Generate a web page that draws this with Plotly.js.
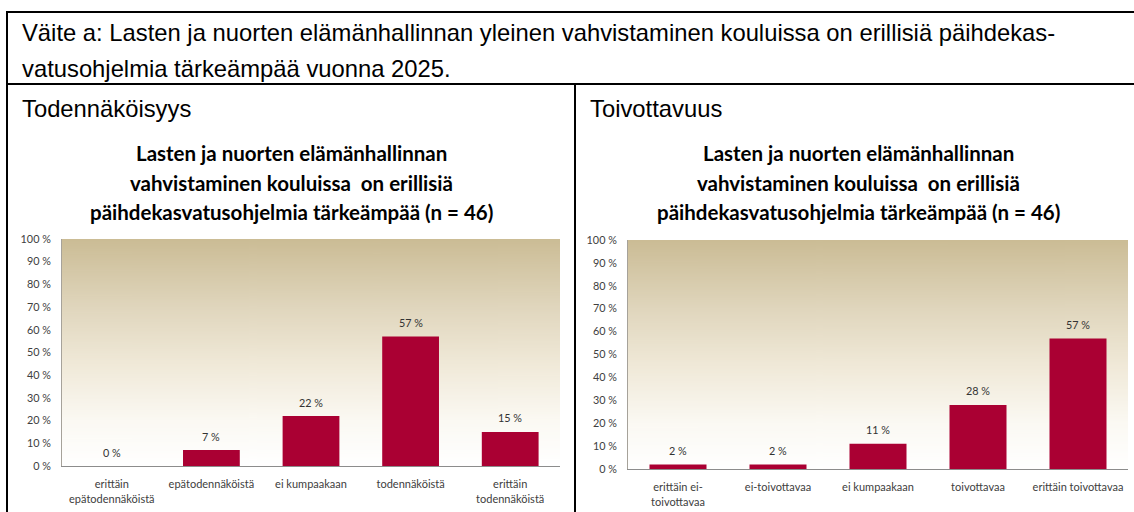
<!DOCTYPE html>
<html>
<head>
<meta charset="utf-8">
<script src="https://cdn.plot.ly/plotly-3.0.1.min.js"></script>
<style>html,body{margin:0;padding:0;background:#fff;}#chart{width:1134px;height:512px;}</style>
</head>
<body>
<div id="chart"></div>
<script>
// ---- data ----
const headerLines = [
  "Väite a: Lasten ja nuorten elämänhallinnan yleinen vahvistaminen kouluissa on erillisiä päihdekas-",
  "vatusohjelmia tärkeämpää vuonna 2025."
];
const panelTitles = ["Todennäköisyys", "Toivottavuus"];
const chartTitleLines = [
  "Lasten ja nuorten elämänhallinnan",
  "vahvistaminen kouluissa  on erillisiä",
  "päihdekasvatusohjelmia tärkeämpää (n = 46)"
];
const categoriesLeft = ["erittäin<br>epätodennäköistä", "epätodennäköistä", "ei kumpaakaan", "todennäköistä", "erittäin<br>todennäköistä"];
const valuesLeft = [0, 7, 22, 57, 15];
const categoriesRight = ["erittäin ei-<br>toivottavaa", "ei-toivottavaa", "ei kumpaakaan", "toivottavaa", "erittäin toivottavaa"];
const valuesRight = [2, 2, 11, 28, 57];

// ---- helpers ----
const W = 1134, H = 512;
const px = x => x / W;
const py = y => 1 - y / H;

const barColor = '#aa0033';
const tickFont = {family: 'Lato, sans-serif', size: 10.8, color: '#404040'};
const catFont = {family: 'Lato, sans-serif', size: 11, color: '#404040'};
const headFont = {family: 'Liberation Sans, Arial, sans-serif', size: 23.8, color: '#000'};

// gradient background image
function gradientURL() {
  const c = document.createElement('canvas');
  c.width = 4; c.height = 400;
  const g = c.getContext('2d');
  const gr = g.createLinearGradient(0, 0, 0, 400);
  gr.addColorStop(0, '#cbbc95');
  gr.addColorStop(0.3, '#e0d6bd');
  gr.addColorStop(0.55, '#f0e9d8');
  gr.addColorStop(0.8, '#fbf9f3');
  gr.addColorStop(1, '#ffffff');
  g.fillStyle = gr;
  g.fillRect(0, 0, 4, 400);
  return c.toDataURL();
}
const bgURL = gradientURL();

const traces = [
  {type: 'bar', x: categoriesLeft, y: valuesLeft, xaxis: 'x', yaxis: 'y',
   marker: {color: barColor, line: {width: 0}}, hoverinfo: 'skip'},
  {type: 'bar', x: categoriesRight, y: valuesRight, xaxis: 'x2', yaxis: 'y2',
   marker: {color: barColor, line: {width: 0}}, hoverinfo: 'skip'}
];

const annotations = [];
headerLines.forEach((t, i) => annotations.push({
  xref: 'paper', yref: 'paper', x: px(20), y: py([32, 68][i]), xanchor: 'left', yanchor: 'middle',
  text: t, showarrow: false, font: headFont
}));
panelTitles.forEach((t, i) => annotations.push({
  xref: 'paper', yref: 'paper', x: px([20, 588][i]), y: py(108), xanchor: 'left', yanchor: 'middle',
  text: t, showarrow: false, font: headFont
}));
[291, 858].forEach(cx => chartTitleLines.forEach((t, i) => annotations.push({
  xref: 'paper', yref: 'paper', x: px(cx), y: py([153, 183, 212][i]), xanchor: 'center', yanchor: 'middle',
  text: '<b>' + t + '</b>', showarrow: false, font: {family: 'Lato, sans-serif', size: 20.5, color: '#000'}
})));
// data labels
[[categoriesLeft, valuesLeft, 'x', 'y'], [categoriesRight, valuesRight, 'x2', 'y2']].forEach(([cats, vals, xa, ya]) => {
  cats.forEach((c, i) => annotations.push({
    xref: xa, yref: ya, x: c, y: vals[i], xanchor: 'center', yanchor: 'middle', yshift: 14,
    text: vals[i] + ' %', showarrow: false, font: {family: 'Lato, sans-serif', size: 10.8, color: '#333'}
  }));
});

const lineStyle = {color: '#000', width: 2};
const shapes = [
  {type: 'line', xref: 'paper', yref: 'paper', x0: px(6), x1: 1, y0: py(12), y1: py(12), line: lineStyle},
  {type: 'line', xref: 'paper', yref: 'paper', x0: px(7), x1: px(7), y0: py(11), y1: 0, line: lineStyle},
  {type: 'line', xref: 'paper', yref: 'paper', x0: px(6), x1: 1, y0: py(84), y1: py(84), line: lineStyle},
  {type: 'line', xref: 'paper', yref: 'paper', x0: px(575), x1: px(575), y0: py(84), y1: 0, line: lineStyle}
];

function yAxis(domain, anchor) {
  return {domain: domain, anchor: anchor, range: [0, 100], dtick: 10, tick0: 0, ticksuffix: ' %',
    showgrid: false, zeroline: false, showline: true, linecolor: '#a6a29a', linewidth: 1,
    ticks: '', tickfont: tickFont, ticklabelstandoff: 8, fixedrange: true};
}
function xAxis(domain, anchor) {
  return {domain: domain, anchor: anchor, type: 'category', showgrid: false, zeroline: false,
    showline: true, linecolor: '#8c8c8c', linewidth: 1, ticks: '', tickfont: catFont,
    ticklabelstandoff: 8, tickangle: 0, fixedrange: true};
}

const layout = {
  width: W, height: H, margin: {l: 0, r: 0, t: 0, b: 0},
  paper_bgcolor: '#ffffff', plot_bgcolor: 'rgba(0,0,0,0)', showlegend: false,
  bargap: 0.43,
  xaxis: xAxis([px(62), px(560)], 'y'),
  yaxis: yAxis([py(466), py(239)], 'x'),
  xaxis2: xAxis([px(628), px(1128)], 'y2'),
  yaxis2: yAxis([py(469), py(240)], 'x2'),
  images: [
    {source: bgURL, xref: 'x domain', yref: 'y domain', x: 0, y: 1, sizex: 1, sizey: 1,
     sizing: 'stretch', xanchor: 'left', yanchor: 'top', layer: 'below'},
    {source: bgURL, xref: 'x2 domain', yref: 'y2 domain', x: 0, y: 1, sizex: 1, sizey: 1,
     sizing: 'stretch', xanchor: 'left', yanchor: 'top', layer: 'below'}
  ],
  annotations: annotations,
  shapes: shapes
};

Plotly.newPlot('chart', traces, layout, {staticPlot: true, displayModeBar: false});
</script>
</body>
</html>
